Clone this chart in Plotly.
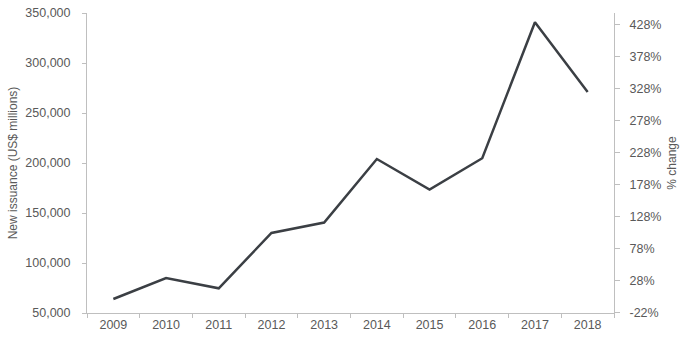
import plotly.graph_objects as go

years = ["2009", "2010", "2011", "2012", "2013", "2014", "2015", "2016", "2017", "2018"]
issuance = [64000, 85000, 74700, 130000, 140500, 204000, 173500, 204800, 340700, 271000]
left_ticks = [50000, 100000, 150000, 200000, 250000, 300000, 350000]
right_ticks = [-22, 28, 78, 128, 178, 228, 278, 328, 378, 428]
right_labels = [f"{t}%" for t in right_ticks]

base = 50000 / 0.78
pct = [(v / base - 1) * 100 for v in issuance]
y_range = [50000, 350000]
y2_range = [(y_range[0] / base - 1) * 100 - 0.01, (y_range[1] / base - 1) * 100]

font_col = "#595959"
axis_col = "#BFBFBF"

fig = go.Figure()
fig.add_trace(go.Scatter(x=years, y=issuance, mode="lines",
                         line=dict(color="#3b3f44", width=2.5),
                         showlegend=False, hoverinfo="x+y"))
fig.add_trace(go.Scatter(x=years, y=pct, mode="lines", yaxis="y2",
                         line=dict(color="rgba(0,0,0,0)", width=0),
                         showlegend=False, hoverinfo="skip"))

fig.update_layout(
    width=680, height=340,
    margin=dict(l=87, r=66, t=13, b=27),
    paper_bgcolor="white", plot_bgcolor="white",
    font=dict(family="Liberation Sans, Arial, sans-serif", size=12.5, color=font_col),
    xaxis=dict(type="category", range=[-0.5, len(years) - 0.5], automargin=False,
               showgrid=False, showline=True, linecolor=axis_col,
               linewidth=1, ticks="outside", tickson="boundaries", ticklen=4,
               tickcolor=axis_col, tickfont=dict(size=12.5, color=font_col)),
    yaxis=dict(range=y_range, tickvals=left_ticks, tickformat=",d", showgrid=False,
               automargin=False,
               zeroline=False, showline=True, linecolor=axis_col, linewidth=1,
               ticks="outside", ticklen=4, tickcolor=axis_col,
               ticklabelstandoff=9, tickfont=dict(size=12.5, color=font_col),
               title=dict(text="New issuance (US$ millions)", standoff=5,
                          font=dict(size=12, color=font_col))),
    yaxis2=dict(range=y2_range, tickvals=right_ticks, ticktext=right_labels,
                overlaying="y", automargin=False,
                side="right", showgrid=False, zeroline=False, showline=True,
                linecolor=axis_col, linewidth=1, ticks="outside", ticklen=5,
                tickcolor=axis_col, ticklabelstandoff=7,
                tickfont=dict(size=12.5, color=font_col),
                title=dict(text="% change", standoff=7,
                           font=dict(size=12, color=font_col))),
)

fig.write_html("out.html")
